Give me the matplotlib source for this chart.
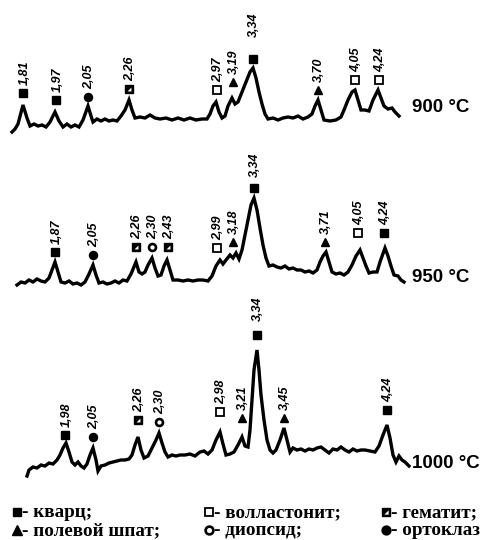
import matplotlib
matplotlib.use("Agg")
import matplotlib.pyplot as plt
from matplotlib.path import Path

# ---------------- data (position in a.u., intensity in a.u.) ----------------
x_900 = [12,15,18,23,27,30,34,38,42,46,50,55,59,63,67,71,75,79,83,88,91,93,97,101,105,109,113,117,121,125,
         129,132,135,140,145,150,155,160,166,172,178,184,190,196,202,207,210,213,216,219,222,225,228,232,235,238,242,246,250,253,
         256,259,262,265,268,273,278,283,288,293,298,303,308,312,315,318,321,324,330,336,341,344,348,352,355,358,361,365,369,373,
         378,381,384,388,392,395,399]
i_900 = [3,6,11,30,17,9,11,9,10,8,13,23,14,8,11,8,10,8,15,29,19,13,16,14,16,14,15,14,19,25,
         35,25,17,18,17,20,17,16,17,15,17,15,17,15,16,16,21,29,33,23,17,19,29,37,31,33,43,53,63,67,
         57,43,31,21,16,17,15,17,18,17,19,16,18,21,29,35,25,15,14,15,18,25,35,43,45,35,25,25,24,35,
         45,37,29,26,27,23,19]

x_950 = [17,21,25,29,33,37,41,45,49,52,55,58,61,65,69,73,77,81,85,89,93,96,99,103,107,111,115,119,123,127,
         131,136,139,142,145,148,152,155,158,161,164,167,170,173,178,183,188,193,198,203,208,212,216,220,223,226,230,233,236,239,
         242,245,248,251,254,257,260,263,266,269,273,277,281,285,289,293,297,301,305,309,313,317,320,323,326,329,332,336,340,344,
         348,352,356,360,363,366,369,373,377,380,385,388,391,394,398,401,404]
i_950 = [5,8,7,10,8,11,9,8,12,20,28,18,8,7,9,6,7,5,8,16,25,15,7,8,6,7,9,7,10,9,
         16,28,18,16,18,25,32,22,14,15,24,30,20,10,10,9,10,9,10,10,9,14,24,30,26,30,35,32,37,31,
         40,55,70,85,92,80,62,45,32,24,25,23,22,24,21,22,20,20,18,19,17,20,28,34,38,28,18,16,17,15,
         18,25,34,40,32,24,17,18,18,28,42,34,24,15,14,10,8]

x_1000 = [27,29,33,37,41,45,49,53,57,60,63,66,69,72,75,78,81,84,87,90,93,96,98,101,105,109,113,117,121,125,
          129,132,135,138,141,144,148,152,156,159,162,165,168,172,176,180,185,190,195,200,204,208,212,216,220,223,226,230,234,238,
          242,245,248,250,252,254,257,259,261,264,267,270,273,276,280,284,287,290,293,297,301,305,309,313,317,321,325,329,333,337,
          341,345,349,353,357,361,365,370,375,379,383,387,390,393,396,399,402,405,409]
i_1000 = [4,10,13,12,15,14,17,16,20,25,32,37,28,18,15,18,14,12,16,25,32,20,9,14,15,17,18,19,20,20,
          21,25,35,43,30,22,24,32,40,47,37,28,23,25,24,25,25,26,24,28,29,26,30,40,48,36,25,26,28,35,
          43,34,33,50,80,110,130,110,85,60,40,30,27,30,40,52,40,28,32,30,31,29,31,30,32,33,30,27,31,30,
          33,30,28,31,29,30,30,29,28,34,45,55,42,25,18,24,20,18,14]

# peak annotations: position, marker level, d-spacing label, phase
pk_900_x = [23, 56, 88, 129, 217, 233, 253, 318, 355, 379]
pk_900_h = [42, 35, 38, 46, 45, 53, 76, 45, 55, 55]
pk_900_d = ["1,81", "1,97", "2,05", "2,26", "2,97", "3,19", "3,34", "3,70", "4,05", "4,24"]
pk_900_p = ["Q", "Q", "O", "H", "W", "F", "Q", "F", "W", "W"]

pk_950_x = [55, 93, 136, 152, 168, 217, 233, 254, 325, 358, 384]
pk_950_h = [38, 35, 43, 43, 43, 42, 48, 102, 48, 57, 57]
pk_950_d = ["1,87", "2,05", "2,26", "2,30", "2,43", "2,99", "3,18", "3,34", "3,71", "4,05", "4,24"]
pk_950_p = ["Q", "O", "H", "D", "H", "W", "F", "Q", "F", "W", "Q"]

pk_1000_x = [65, 93, 138, 159, 220, 242, 257, 284, 387]
pk_1000_h = [45, 43, 60, 58, 68, 62, 145, 62, 70]
pk_1000_d = ["1,98", "2,05", "2,26", "2,30", "2,98", "3,21", "3,34", "3,45", "4,24"]
pk_1000_p = ["Q", "O", "H", "D", "W", "F", "Q", "F", "Q"]

temps = ["900 °C", "950 °C", "1000 °C"]

legend_rows = [[("Q", "- кварц;"), ("W", "- волластонит;"), ("H", "- гематит;")],
               [("F", "- полевой шпат;"), ("D", "- диопсид;"), ("O", "- ортоклаз")]]

# ---------------- drawing ----------------
W, H = 502, 540
fig = plt.figure(figsize=(W / 100, H / 100), dpi=100)
ax = fig.add_axes([0, 0, 1, 1])
ax.set_xlim(0, W)
ax.set_ylim(0, H)
ax.axis("off")

tri_path = Path([(-1, -1), (1, -1), (1, 1), (-1, -1)])

def draw_marker(x, y, kind, ms=5.6):
    if kind == "Q":
        ax.plot([x], [y], marker="s", ms=ms, color="black", mec="black", zorder=5)
    elif kind == "W":
        ax.plot([x], [y], marker="s", ms=ms, mfc="white", mec="black", mew=1.3, zorder=5)
    elif kind == "H":
        ax.plot([x], [y], marker="s", ms=ms, color="black", mec="black", zorder=5)
        ax.plot([x], [y], marker=tri_path, ms=ms * 0.5, mfc="white", mec="white", mew=0, zorder=6)
    elif kind == "F":
        ax.plot([x], [y], marker="^", ms=ms + 0.6, color="black", zorder=5)
    elif kind == "O":
        ax.plot([x], [y], marker="o", ms=ms + 0.2, color="black", zorder=5)
    elif kind == "D":
        ax.plot([x], [y], marker="o", ms=ms - 0.6, mfc="white", mec="black", mew=1.9, zorder=5)

traces = [
    (x_900, i_900, pk_900_x, pk_900_h, pk_900_d, pk_900_p, 405, 432, 16),
    (x_950, i_950, pk_950_x, pk_950_h, pk_950_d, pk_950_p, 250, 263, 8),
    (x_1000, i_1000, pk_1000_x, pk_1000_h, pk_1000_d, pk_1000_p, 60, 77, 10),
]

lab_font = dict(family="Liberation Sans", size=9, style="italic", weight="bold")
for (xs, ys, px, ph, pd, pp, off, ty, main_lift), t in zip(traces, temps):
    ax.plot(xs, [v + off for v in ys], color="black", lw=2.4, solid_joinstyle="miter")
    hmax = max(ph)
    for x, h, d, p in zip(px, ph, pd, pp):
        draw_marker(x, h + off, p)
        lift = main_lift if h == hmax else 6
        ax.annotate(d, (x, h + off), xytext=(1, lift), textcoords="offset points",
                    rotation=90, ha="center", va="bottom", **lab_font)
    ax.text(412, ty, t, family="Liberation Sans", weight="bold", size=13.5,
            ha="left", va="center")

# legend
leg_cols = [17, 209, 386]
leg_rows_y = [H - 512, H - 530]
for row, ly in zip(legend_rows, leg_rows_y):
    for (kind, txt), lx in zip(row, leg_cols):
        draw_marker(lx, ly, kind, ms=6.2)
        ax.text(lx + 5, ly - 0.5, txt, family="Liberation Serif", weight="bold", size=13.8,
                ha="left", va="center")

fig.savefig("out.png", dpi=100, facecolor="white")
